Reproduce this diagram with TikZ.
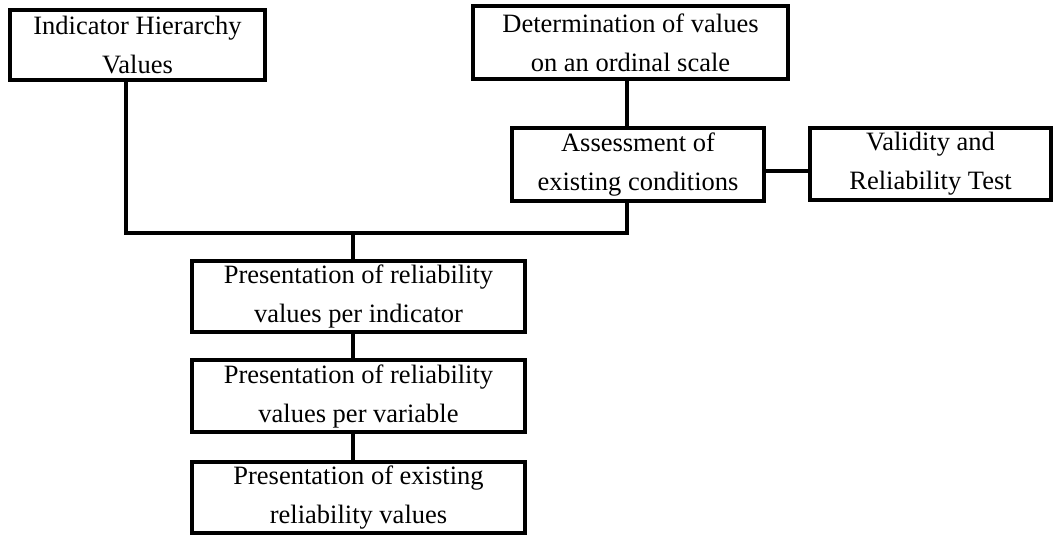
\documentclass[tikz,border=0pt]{standalone}
\usepackage{fontspec}
\setmainfont{Liberation Serif}
\begin{document}
\begin{tikzpicture}[x=1pt,y=-1pt,
  box/.style={draw, line width=4.5pt, inner sep=0pt, align=center,
    font=\fontsize{26.5}{39}\selectfont},
  conn/.style={line width=4pt}]
\useasboundingbox (0,0) rectangle (1054,536);
\node[box, minimum width=255pt, minimum height=70pt] (b1) at (137.5,45) {Indicator Hierarchy\\Values};
\node[box, minimum width=315pt, minimum height=73pt] (b2) at (630.5,42.5) {Determination of values\\on an ordinal scale};
\node[box, minimum width=252pt, minimum height=73pt] (b3) at (638,164.5) {Assessment of\\existing conditions};
\node[box, minimum width=241pt, minimum height=72pt] (b4) at (930.5,164) {Validity and\\Reliability Test};
\node[box, minimum width=333pt, minimum height=71pt] (b5) at (358.5,296.5) {Presentation of reliability\\values per indicator};
\node[box, minimum width=333pt, minimum height=72pt] (b6) at (358.5,396) {Presentation of reliability\\values per variable};
\node[box, minimum width=333pt, minimum height=71pt] (b7) at (358.5,497.5) {Presentation of existing\\reliability values};
\coordinate (xa) at (126,0);
\coordinate (xb) at (627,0);
\coordinate (xc) at (353,0);
\coordinate (yj) at (0,233);
\coordinate (yr) at (0,171);
\draw[conn] (b1.south -| xa) -- (xa |- yj) -| (b3.south -| xb);
\draw[conn] (b2.south -| xb) -- (b3.north -| xb);
\draw[conn] (xc |- yj) -- (b5.north -| xc);
\draw[conn] (b5.south -| xc) -- (b6.north -| xc);
\draw[conn] (b6.south -| xc) -- (b7.north -| xc);
\draw[conn] (b3.east |- yr) -- (b4.west |- yr);
\end{tikzpicture}
\end{document}
